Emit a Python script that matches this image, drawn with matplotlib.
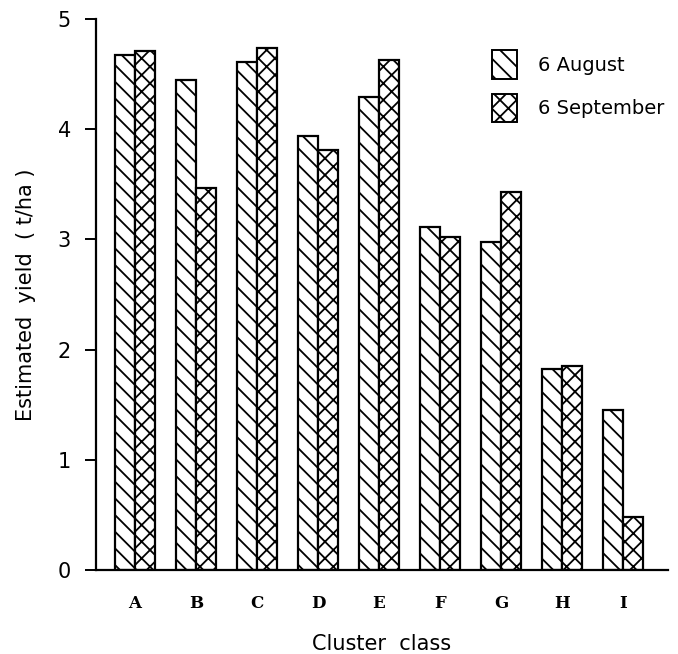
import matplotlib
matplotlib.use("Agg")
import matplotlib.pyplot as plt
import numpy as np
from matplotlib.patches import Patch

classes = ["A", "B", "C", "D", "E", "F", "G", "H", "I"]
aug = [4.67, 4.45, 4.61, 3.94, 4.29, 3.11, 2.98, 1.82, 1.45]
sep = [4.71, 3.47, 4.74, 3.81, 4.63, 3.02, 3.43, 1.85, 0.48]
series_labels = ["6 August", "6 September"]
yticks = [0, 1, 2, 3, 4, 5]

plt.rcParams["hatch.linewidth"] = 1.3

fig = plt.figure(figsize=(6.78, 6.54), dpi=100)
ax = fig.add_axes([96 / 678, 1 - 570 / 654, (668 - 96) / 678, (570 - 19) / 654])

x = np.arange(len(classes))
w = 0.33
ax.bar(x - w / 2, aug, width=w, facecolor="white", edgecolor="black",
       linewidth=1.6, hatch="\\\\")
ax.bar(x + w / 2, sep, width=w, facecolor="white", edgecolor="black",
       linewidth=1.6, hatch="xx")

ax.set_xlim(-0.64, 8.74)
ax.set_ylim(0, 5)
for s in ["top", "right"]:
    ax.spines[s].set_visible(False)
ax.spines["left"].set_linewidth(1.6)
ax.spines["bottom"].set_linewidth(1.6)

ax.set_yticks(yticks)
ax.set_yticklabels([str(t) for t in yticks], fontsize=15, family="DejaVu Sans")
ax.tick_params(axis="y", direction="out", length=8, width=1.4, pad=10)
ax.set_xticks(x)
ax.set_xticklabels(classes, fontsize=12, family="DejaVu Serif", fontweight="bold")
ax.tick_params(axis="x", length=0, pad=18)

ax.set_ylabel("Estimated  yield  ( t/ha )", fontsize=15, labelpad=16)
ax.set_xlabel("Cluster  class", fontsize=15, labelpad=16)

handles = [Patch(facecolor="white", edgecolor="black", hatch="\\\\", linewidth=1.4),
           Patch(facecolor="white", edgecolor="black", hatch="xx", linewidth=1.4)]
ax.legend(handles, series_labels, loc="upper right", bbox_to_anchor=(1.025, 0.975),
          frameon=False, fontsize=14, handlelength=1.3, handleheight=1.9,
          handletextpad=1.1, labelspacing=0.75)

fig.savefig("out.png", dpi=100)
